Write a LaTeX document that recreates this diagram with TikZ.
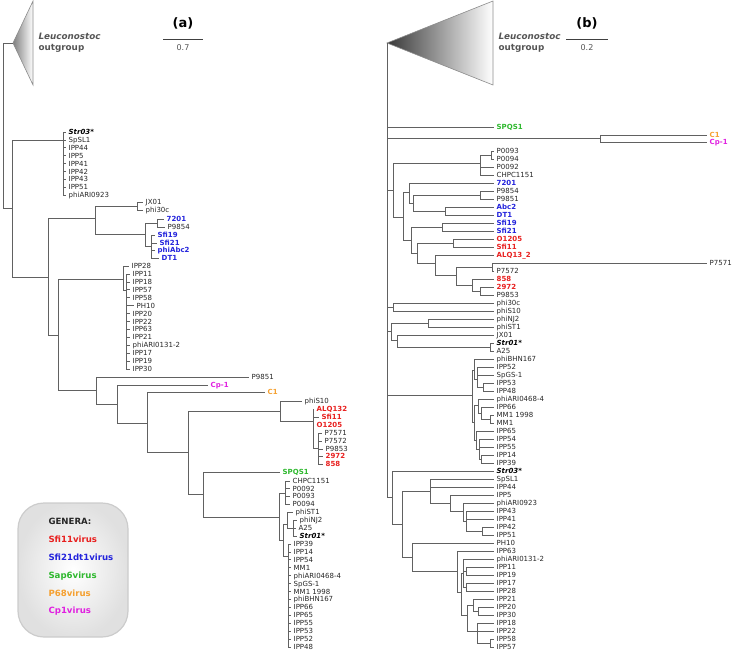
\documentclass[tikz,border=0pt]{standalone}
\usepackage{fontspec}
\setmainfont{DejaVu Sans}
\definecolor{csfi}{HTML}{E8201F}
\definecolor{cdt}{HTML}{2323DC}
\definecolor{csap}{HTML}{2EB82E}
\definecolor{cpsx}{HTML}{F5A030}
\definecolor{ccp}{HTML}{E020E0}
\definecolor{cgrey}{HTML}{555555}

\begin{document}
\begin{tikzpicture}[x=1pt,y=-1pt,
lab/.style={anchor=west,inner xsep=2.5pt,inner ysep=0pt,text height=5.1pt,text depth=0pt,font=\fontsize{7}{8}\selectfont,text=black!85},
boldlab/.style={font=\fontsize{7}{8}\selectfont\bfseries},
pl/.style={},
ph/.style={xshift=4pt},
far/.style={xshift=213pt},
sfiv/.style={boldlab,text=csfi},
dtv/.style={boldlab,text=cdt},
sapv/.style={boldlab,text=csap},
psxv/.style={boldlab,text=cpsx},
cpv/.style={boldlab,text=ccp},
strv/.style={font=\fontsize{7}{8}\selectfont\bfseries\itshape,text=black},
br/.style={draw=black!62,line width=.8pt},
outg/.style={draw=black!45,line width=.6pt},
outl/.style={anchor=west,align=left,text=cgrey,font=\fontsize{8.8}{11}\selectfont\bfseries},
ttl/.style={font=\fontsize{13}{15}\selectfont\bfseries},
scl/.style={font=\fontsize{8}{9}\selectfont,text=cgrey}]
\useasboundingbox (0,0) rectangle (733,650);

% ---- tree (a)
\coordinate (aOut) at (13,43);
\coordinate (aOutT) at (33,1);
\coordinate (aOutB) at (33,85);
\shadedraw[outg,left color=black!50,right color=white] (aOut) -- (aOutT) -- (aOutB) -- cycle;
\node[outl] (aOutL) at (35,43) {\textit{Leuconostoc}\\outgroup};
\node[ttl] (aTtl) at (183,23) {(a)};
\coordinate (aSc1) at (163,40); \coordinate (aSc2) at (203,40);
\draw[line width=1pt,black!75] (aSc1) -- (aSc2);
\node[scl] (aScL) at (183,48) {0.7};

\coordinate (aRt) at (3,126);
\coordinate (aA) at (12,208);
\coordinate (aStr) at (63,140);
\coordinate (aB) at (48,277);
\coordinate (aC) at (95,218);
\coordinate (aJX) at (137,206);
\coordinate (aC2) at (145,234);
\coordinate (a72) at (157,223);
\coordinate (aSf) at (151,246);
\coordinate (aD) at (58,335);
\coordinate (aIa) at (123,279);
\coordinate (aIb) at (126,290);
\coordinate (aE) at (96,390);
\coordinate (aF) at (117,404);
\coordinate (aG) at (147,423);
\coordinate (aH) at (188,452);
\coordinate (aQ) at (280,411);
\coordinate (aRa) at (313,421);
\coordinate (aRb) at (318,448);
\coordinate (aW) at (203,494);
\coordinate (aK) at (279,517);
\coordinate (aP0) at (285,493);
\coordinate (aM) at (283,540);
\coordinate (aPh) at (287,524);
\coordinate (aNJ) at (293,528);
\coordinate (aIP) at (288,556);
\foreach \p/\c in {aRt/aOut,aRt/aA,aA/aStr,aA/aB,aB/aC,aB/aD,aC/aJX,aC/aC2,aC2/a72,aC2/aSf,
  aD/aIa,aD/aE,aIa/aIb,aE/aF,aF/aG,aG/aH,aH/aQ,aH/aW,aQ/aRa,aRa/aRb,aW/aK,aK/aP0,aK/aM,
  aM/aPh,aM/aIP,aPh/aNJ}
  \draw[br] (\p) |- (\c);

\foreach \nm/\st/\tx [count=\i from 0] in {aStr03/strv/Str03*,aSpSL1/pl/SpSL1,aIPP44/pl/IPP44,
  aIPP5/pl/IPP5,aIPP41/pl/IPP41,aIPP42/pl/IPP42,aIPP43/pl/IPP43,aIPP51/pl/IPP51,aARI0923/pl/phiARI0923}
  {\node[lab,\st] (\nm) at (66,{132+7.9*\i}) {\tx};
   \draw[br] (aStr) |- (\nm.west);}
\foreach \nm/\st/\tx [count=\i from 0] in {aIPP11/pl/IPP11,aIPP18/pl/IPP18,aIPP57/pl/IPP57,
  aIPP58/pl/IPP58,aPH10/ph/PH10,aIPP20/pl/IPP20,aIPP22/pl/IPP22,aIPP63/pl/IPP63,aIPP21/pl/IPP21,
  aARI01312/pl/phiARI0131-2,aIPP17/pl/IPP17,aIPP19/pl/IPP19,aIPP30/pl/IPP30}
  {\node[lab,\st] (\nm) at (130,{274+7.92*\i}) {\tx};
   \draw[br] (aIb) |- (\nm.west);}
\foreach \nm/\st/\tx [count=\i from 0] in {aCHPC/pl/CHPC1151,aP0092/pl/P0092,aP0093/pl/P0093,aP0094/pl/P0094}
  {\node[lab,\st] (\nm) at (290,{481+7.67*\i}) {\tx};
   \draw[br] (aP0) |- (\nm.west);}
\foreach \nm/\st/\tx [count=\i from 0] in {aIPP39/pl/IPP39,aIPP14/pl/IPP14,aIPP54/pl/IPP54,aMM1/pl/MM1,
  aARI4684/pl/phiARI0468-4,aSpGS/pl/SpGS-1,aMM98/pl/MM1 1998,aBHN/pl/phiBHN167,aIPP66/pl/IPP66,
  aIPP65/pl/IPP65,aIPP55/pl/IPP55,aIPP53/pl/IPP53,aIPP52/pl/IPP52,aIPP48/pl/IPP48}
  {\node[lab,\st] (\nm) at (291,{544+7.92*\i}) {\tx};
   \draw[br] (aIP) |- (\nm.west);}
\foreach \p/\nm/\st/\x/\y/\tx in {aJX/aJX01/pl/143/202/JX01,aJX/aphi30c/pl/143/210/phi30c,
  a72/a7201/dtv/164/219/7201,a72/aP9854/pl/165/227/P9854,
  aSf/aSfi19/dtv/155/235/Sfi19,aSf/aSfi21/dtv/157/243/Sfi21,aSf/aAbc2/dtv/155/250/phiAbc2,aSf/aDT1/dtv/159/258/DT1,
  aIa/aIPP28/pl/129/266/IPP28,
  aE/aP9851/pl/249/377/P9851,aF/aCp1/cpv/208/385/Cp-1,aG/aC1/psxv/265/392/C1,
  aQ/aphiS10/pl/302/401/phiS10,
  aRa/aALQ/sfiv/314/409/ALQ132,aRa/aSfi11/sfiv/319/417/Sfi11,aRa/aO1205/sfiv/314/425/O1205,
  aRb/aP7571/pl/322/433/P7571,aRb/aP7572/pl/322/441/P7572,aRb/aP9853/pl/323/449/P9853,
  aRb/a2972/sfiv/323/456/2972,aRb/a858/sfiv/323/464/858,
  aW/aSPQS1/sapv/280/472/SPQS1,
  aPh/aphiST1/pl/293/512/phiST1,aNJ/aphiNJ2/pl/297/520/phiNJ2,aNJ/aA25/pl/296/528/A25,aNJ/aStr01/strv/297/536/Str01*}
  {\node[lab,\st] (\nm) at (\x,\y) {\tx};
   \draw[br] (\p) |- (\nm.west);}

% legend
\node[draw=black!20,line width=1.2pt,rounded corners=26pt,minimum width=110pt,minimum height=134pt,
  inner color=white,outer color=black!12] (legend) at (73,570) {};
\node[anchor=west,align=left,text=black!85,font=\fontsize{8.6}{17.8}\selectfont\bfseries] (legtxt) at (45,567)
  {GENERA:\\\textcolor{csfi}{Sfi11virus}\\\textcolor{cdt}{Sfi21dt1virus}\\\textcolor{csap}{Sap6virus}\\
   \textcolor{cpsx}{P68virus}\\\textcolor{ccp}{Cp1virus}};

% ---- tree (b)
\coordinate (bOut) at (387,43);
\coordinate (bOutT) at (493,1);
\coordinate (bOutB) at (493,85);
\shadedraw[outg,left color=black!78,right color=white] (bOut) -- (bOutT) -- (bOutB) -- cycle;
\node[outl] (bOutL) at (495,43) {\textit{Leuconostoc}\\outgroup};
\node[ttl] (bTtl) at (587,23) {(b)};
\coordinate (bSc1) at (566,40); \coordinate (bSc2) at (608,40);
\draw[line width=1pt,black!75] (bSc1) -- (bSc2);
\node[scl] (bScL) at (587,48) {0.2};

\coordinate (bRt) at (387,270);
\coordinate (bCC) at (600,138);
\coordinate (bN1) at (393,190);
\coordinate (bP0) at (480,163);
\coordinate (bP0a) at (491,155);
\coordinate (bN2) at (403,217);
\coordinate (bN3) at (409,192);
\coordinate (bN3b) at (413,203);
\coordinate (bP98) at (480,195);
\coordinate (bAD) at (445,211);
\coordinate (bN4) at (411,240);
\coordinate (bSf) at (442,227);
\coordinate (bN5) at (417,253);
\coordinate (bOS) at (453,243);
\coordinate (bN6) at (435,263);
\coordinate (bN7) at (456,275);
\coordinate (bP75) at (492,267);
\coordinate (bN8) at (472,285);
\coordinate (bN9) at (480,291);
\coordinate (bPh) at (393,307);
\coordinate (bQ) at (391,331);
\coordinate (bNJ) at (428,323);
\coordinate (bJX) at (397,340);
\coordinate (bSA) at (490,347);
\coordinate (bIP) at (472,395);
\coordinate (bG1) at (474,370);
\coordinate (bG1b) at (477,379);
\coordinate (bG1c) at (483,387);
\coordinate (bG2) at (474,422);
\coordinate (bG2a) at (478,405);
\coordinate (bG2c) at (481,413);
\coordinate (bMM) at (490,419);
\coordinate (bG2b) at (476,440);
\coordinate (bG2d) at (479,449);
\coordinate (bG2e) at (481,459);
\coordinate (bR3) at (392,497);
\coordinate (bS1) at (402,524);
\coordinate (bS2) at (430,491);
\coordinate (bS3) at (450,503);
\coordinate (bS4) at (463,511);
\coordinate (bS5) at (466,521);
\coordinate (bS6) at (482,531);
\coordinate (bT) at (412,557);
\coordinate (bU) at (457,571);
\coordinate (bU2) at (461,592);
\coordinate (bV1) at (463,573);
\coordinate (bV1a) at (466,571);
\coordinate (bV1b) at (466,587);
\coordinate (bV2) at (467,615);
\coordinate (bV2a) at (473,605);
\coordinate (bV2c) at (478,611);
\coordinate (bV2b) at (477,631);
\coordinate (bV2d) at (490,643);
\foreach \p/\c in {bRt/bOut,bRt/bCC,bRt/bN1,bRt/bPh,bRt/bQ,bRt/bIP,bRt/bR3,
  bN1/bP0,bN1/bN2,bP0/bP0a,bN2/bN3,bN2/bN4,bN3/bN3b,bN3b/bP98,bN3b/bAD,bN4/bSf,bN4/bN5,
  bN5/bOS,bN5/bN6,bN6/bN7,bN7/bP75,bN7/bN8,bN8/bN9,bQ/bNJ,bQ/bJX,bJX/bSA,
  bIP/bG1,bIP/bG2,bG1/bG1b,bG1b/bG1c,bG2/bG2a,bG2/bG2b,bG2a/bG2c,bG2c/bMM,bG2b/bG2d,bG2d/bG2e,
  bR3/bS1,bS1/bS2,bS1/bT,bS2/bS3,bS3/bS4,bS4/bS5,bS5/bS6,bT/bU,bU/bU2,bU2/bV1,bU2/bV2,
  bV1/bV1a,bV1/bV1b,bV2/bV2a,bV2/bV2b,bV2a/bV2c,bV2b/bV2d}
  \draw[br] (\p) |- (\c);

\node[lab,sapv] (bSPQS1) at (494,127) {SPQS1};
\node[lab,psxv] (bC1) at (707,135) {C1};
\node[lab,cpv] (bCp1) at (707,142) {Cp-1};
\draw[br] (bRt) |- (bSPQS1.west);
\draw[br] (bCC) |- (bC1.west);
\draw[br] (bCC) |- (bCp1.west);

\foreach \p/\nm/\st/\tx [count=\i from 0] in {bP0a/bP0093/pl/P0093,bP0a/bP0094/pl/P0094,
  bP0/bP0092/pl/P0092,bP0/bCHPC/pl/CHPC1151,bN3/b7201/dtv/7201,bP98/bP9854/pl/P9854,bP98/bP9851/pl/P9851,
  bAD/bAbc2/dtv/Abc2,bAD/bDT1/dtv/DT1,bSf/bSfi19/dtv/Sfi19,bSf/bSfi21/dtv/Sfi21,
  bOS/bO1205/sfiv/O1205,bOS/bSfi11/sfiv/Sfi11,bN6/bALQ/sfiv/ALQ13\_2,
  bP75/bP7571/far/P7571,bP75/bP7572/pl/P7572,bN8/b858/sfiv/858,bN9/b2972/sfiv/2972,bN9/bP9853/pl/P9853,
  bPh/bphi30c/pl/phi30c,bPh/bphiS10/pl/phiS10,bNJ/bphiNJ2/pl/phiNJ2,bNJ/bphiST1/pl/phiST1,
  bJX/bJX01/pl/JX01,bSA/bStr01/strv/Str01*,bSA/bA25/pl/A25,
  bG1/bBHN/pl/phiBHN167,bG1b/bIPP52/pl/IPP52,bG1b/bSpGS/pl/SpGS-1,bG1c/bIPP53/pl/IPP53,bG1c/bIPP48/pl/IPP48,
  bG2a/bARI4684/pl/phiARI0468-4,bG2c/bIPP66/pl/IPP66,bMM/bMM98/pl/MM1 1998,bMM/bMM1/pl/MM1,
  bG2b/bIPP65/pl/IPP65,bG2d/bIPP54/pl/IPP54,bG2d/bIPP55/pl/IPP55,bG2e/bIPP14/pl/IPP14,bG2e/bIPP39/pl/IPP39,
  bR3/bStr03/strv/Str03*,bS2/bSpSL1/pl/SpSL1,bS2/bIPP44/pl/IPP44,bS3/bIPP5/pl/IPP5,
  bS4/bARI0923/pl/phiARI0923,bS5/bIPP43/pl/IPP43,bS5/bIPP41/pl/IPP41,bS6/bIPP42/pl/IPP42,bS6/bIPP51/pl/IPP51,
  bT/bPH10/pl/PH10,bU/bIPP63/pl/IPP63,bV1/bARI01312/pl/phiARI0131-2,bV1a/bIPP11/pl/IPP11,bV1a/bIPP19/pl/IPP19,
  bV1b/bIPP17/pl/IPP17,bV1b/bIPP28/pl/IPP28,bV2a/bIPP21/pl/IPP21,bV2c/bIPP20/pl/IPP20,bV2c/bIPP30/pl/IPP30,
  bV2b/bIPP18/pl/IPP18,bV2b/bIPP22/pl/IPP22,bV2d/bIPP58/pl/IPP58,bV2d/bIPP57/pl/IPP57}
  {\node[lab,\st] (\nm) at (494,{151+8*\i}) {\tx};
   \draw[br] (\p) |- (\nm.west);}
\end{tikzpicture}
\end{document}
